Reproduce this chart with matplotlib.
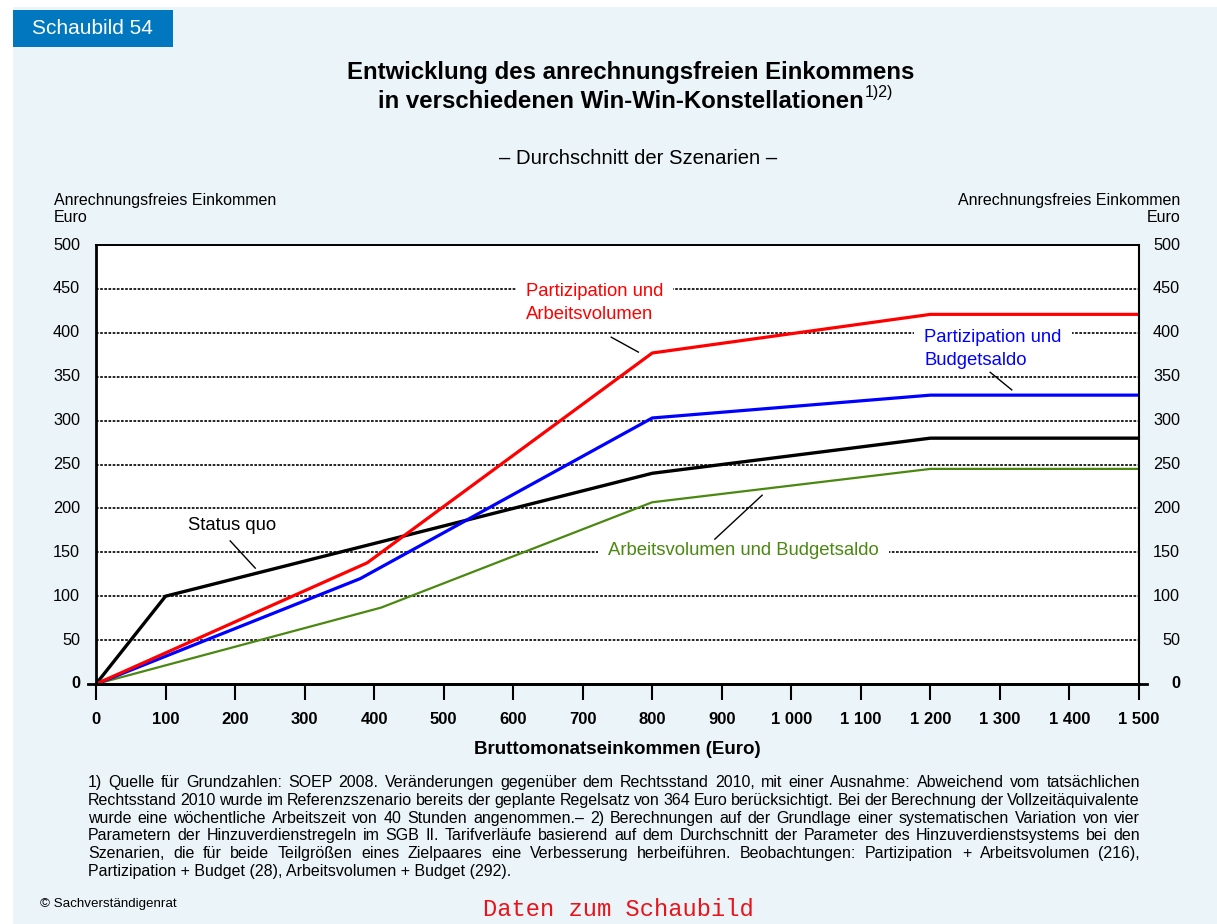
import matplotlib
matplotlib.use('Agg')
import matplotlib.pyplot as plt
from matplotlib.patches import Rectangle

W, H = 1217, 924
plt.rcParams['font.family'] = ['Liberation Sans', 'DejaVu Sans']

# ---------------- data ----------------
x_status = [0, 100, 800, 1200, 1500]
status_quo = [0, 100, 240, 280, 280]
x_part_arb = [0, 390, 800, 1200, 1500]
part_arb = [0, 138, 377, 421, 421]
x_part_bud = [0, 380, 800, 1200, 1500]
part_bud = [0, 120, 303, 329, 329]
x_arb_bud = [0, 410, 800, 1200, 1500]
arb_bud = [0, 87, 207, 245, 245]

x_ticks = list(range(0, 1501, 100))
x_tick_labels = ['0', '100', '200', '300', '400', '500', '600', '700', '800', '900',
                 '1 000', '1 100', '1 200', '1 300', '1 400', '1 500']
y_ticks = list(range(0, 501, 50))
y_tick_labels = [str(v) for v in y_ticks]

RED, BLUE, BLACK, GREEN = '#FF0000', '#0000FF', '#000000', '#4A8810'
BG = '#EBF4F8'

footnote = [
    "1) Quelle für Grundzahlen: SOEP 2008. Veränderungen gegenüber dem Rechtsstand 2010, mit einer Ausnahme: Abweichend vom tatsächlichen",
    "Rechtsstand 2010 wurde im Referenzszenario bereits der geplante Regelsatz von 364 Euro berücksichtigt. Bei der Berechnung der Vollzeitäquivalente",
    "wurde eine wöchentliche Arbeitszeit von 40 Stunden angenommen.– 2) Berechnungen auf der Grundlage einer systematischen Variation von vier",
    "Parametern der Hinzuverdienstregeln im SGB II. Tarifverläufe basierend auf dem Durchschnitt der Parameter des Hinzuverdienstsystems bei den",
    "Szenarien, die für beide Teilgrößen eines Zielpaares eine Verbesserung herbeiführen. Beobachtungen: Partizipation + Arbeitsvolumen (216),",
    "Partizipation + Budget (28), Arbeitsvolumen + Budget (292).",
]

# ---------------- figure ----------------
fig = plt.figure(figsize=(W / 100, H / 100), dpi=100)
fig.patch.set_facecolor('white')


def fx(px):
    return px / W


def fy(py):
    return 1 - py / H


# background panel
fig.patches.append(Rectangle((fx(13), 0), 1 - fx(13), fy(7), transform=fig.transFigure,
                             facecolor=BG, edgecolor='none', zorder=-5))
# label box
fig.patches.append(Rectangle((fx(13), fy(47)), fx(173) - fx(13), fy(10) - fy(47),
                             transform=fig.transFigure, facecolor='#0077BE',
                             edgecolor='none', zorder=-4))
fig.text(fx(32), fy(29), 'Schaubild 54', color='white', fontsize=15, va='center', ha='left')

# titles
fig.text(fx(631), fy(73), 'Entwicklung des anrechnungsfreien Einkommens', fontsize=17.3,
         fontweight='bold', ha='center', va='center')
t2 = fig.text(fx(378), fy(101), 'in verschiedenen Win-Win-Konstellationen', fontsize=17.3,
              fontweight='bold', ha='left', va='center')
r = fig.canvas.get_renderer()
bb = t2.get_window_extent(r)
fig.text(bb.x1 / W + 0.001, fy(93), '1)2)', fontsize=11.5, ha='left', va='center')
fig.text(fx(638), fy(158), '– Durchschnitt der Szenarien –', fontsize=14.6, ha='center', va='center')

# axis unit labels
fig.text(fx(54), fy(200), 'Anrechnungsfreies Einkommen', fontsize=11.5, ha='left', va='center')
fig.text(fx(54), fy(217), 'Euro', fontsize=11.5, ha='left', va='center')
fig.text(fx(1180), fy(200), 'Anrechnungsfreies Einkommen', fontsize=11.5, ha='right', va='center')
fig.text(fx(1180), fy(217), 'Euro', fontsize=11.5, ha='right', va='center')

# ---------------- axes ----------------
ax = fig.add_axes([fx(96), fy(684), fx(1139) - fx(96), fy(245) - fy(684)])
ax.set_zorder(2)
ax.set_facecolor('white')
ax.set_xlim(0, 1500)
ax.set_ylim(0, 500)

ax.plot(x_arb_bud, arb_bud, color=GREEN, lw=1.6, zorder=3, solid_joinstyle='miter')
ax.plot(x_status, status_quo, color=BLACK, lw=2.4, zorder=4, solid_joinstyle='miter')
ax.plot(x_part_bud, part_bud, color=BLUE, lw=2.3, zorder=4, solid_joinstyle='miter')
ax.plot(x_part_arb, part_arb, color=RED, lw=2.3, zorder=5, solid_joinstyle='miter')

ax.set_xticks(x_ticks)
ax.set_xticklabels(x_tick_labels, fontsize=12, fontweight='bold')
ax.tick_params(axis='x', direction='out', length=11.5, width=1.5, pad=8.5, colors='black')
ax.set_yticks(y_ticks)
ax.set_yticklabels([])
ax.tick_params(axis='y', length=0)
ax.grid(axis='y', color='black', linestyle=(0, (1.6, 0.9)), linewidth=1.2, zorder=1)
ax.set_axisbelow(True)

for s, lw in (('left', 2.0), ('bottom', 2.0), ('top', 1.4), ('right', 1.5)):
    ax.spines[s].set_linewidth(lw)
    ax.spines[s].set_color('black')
    ax.spines[s].set_zorder(6)

# zero line extension (tick at 0 on both sides)
ax.axhline(0, xmin=-8 / 1043, xmax=1 + 8 / 1043, color='black', lw=2.0, clip_on=False, zorder=6)

ytr = ax.get_yaxis_transform()
for v, lab in zip(y_ticks, y_tick_labels):
    w = 'bold' if v == 0 else 'normal'
    ax.text(-16 / 1043, v, lab, transform=ytr, ha='right', va='center', fontsize=11.7, fontweight=w)
    ax.text(1 + 41 / 1043, v, lab, transform=ytr, ha='right', va='center', fontsize=11.7, fontweight=w)

fig.text(fx(617), fy(750), 'Bruttomonatseinkommen (Euro)', fontsize=13.5, fontweight='bold',
         ha='center', va='center')

# ---------------- annotations ----------------
box = dict(boxstyle='square,pad=0.55', facecolor='white', edgecolor='none')
ax.text(618, 446.5, 'Partizipation und', color=RED, fontsize=13.3, va='center', ha='left',
        bbox=box, zorder=2)
ax.text(618, 420.3, 'Arbeitsvolumen', color=RED, fontsize=13.3, va='center', ha='left', zorder=2)
ax.plot([741, 780], [395, 378], color='black', lw=1.0, zorder=3)

ax.text(1191, 395.2, 'Partizipation und', color=BLUE, fontsize=13.3, va='center', ha='left',
        bbox=box, zorder=2)
ax.text(1191, 369.0, 'Budgetsaldo', color=BLUE, fontsize=13.3, va='center', ha='left', zorder=2)
ax.plot([1286, 1317], [355, 335], color='black', lw=1.0, zorder=3)

ax.text(132, 181, 'Status quo', color=BLACK, fontsize=13.3, va='center', ha='left', zorder=2)
ax.plot([193, 229], [163, 132], color='black', lw=1.0, zorder=3)

ax.text(736, 152.6, 'Arbeitsvolumen und Budgetsaldo', color=GREEN, fontsize=13.3, va='center',
        ha='left', bbox=box, zorder=2)
ax.plot([890, 958], [165, 215], color='black', lw=1.0, zorder=3)

# ---------------- footnote (justified) ----------------
FS = 11.5
x0, x1 = 88, 1140
base0, dy = 787, 17.8
for i, line in enumerate(footnote):
    yb = fy(base0 + i * dy)
    if i == len(footnote) - 1:
        fig.text(fx(x0), yb, line, fontsize=FS, ha='left', va='baseline')
        continue
    words = line.split(' ')
    ts = [fig.text(0, yb, wd, fontsize=FS, ha='left', va='baseline') for wd in words]
    widths = [t.get_window_extent(r).width for t in ts]
    gap = ((x1 - x0) - sum(widths)) / (len(words) - 1)
    xx = x0
    for t, wdt in zip(ts, widths):
        t.set_x(xx / W)
        xx += wdt + gap

fig.text(fx(40), fy(904), '© Sachverständigenrat', fontsize=9.6, ha='left', va='center')
fig.text(fx(483), fy(910), 'Daten zum Schaubild', fontsize=17.1, color='#E8141A',
         family=['Liberation Mono', 'DejaVu Sans Mono'], ha='left', va='center')

fig.savefig('out.png', dpi=100, facecolor=fig.get_facecolor())
